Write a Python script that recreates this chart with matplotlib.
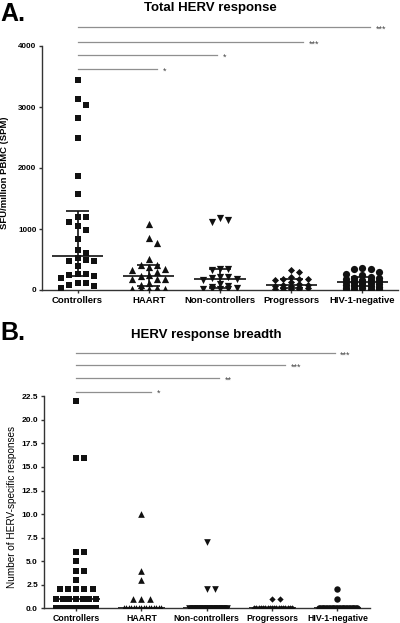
import numpy as np
import matplotlib.pyplot as plt

plt.rcParams['font.family'] = ['Liberation Sans', 'DejaVu Sans']

groups = ['Controllers', 'HAART', 'Non-controllers', 'Progressors', 'HIV-1-negative']

# A. Total HERV response (SFU/million PBMC)
sfu_controllers = [3450, 3130, 3030, 2825, 2500, 1875, 1575, 1200, 1200, 1110, 1050, 980, 840, 660, 610,
                   520, 485, 475, 475, 395, 262, 262, 240, 230, 190, 110, 110, 82, 60, 27]
sfu_haart = [1075, 860, 765, 510, 415, 405, 380, 350, 325, 290, 240, 230, 185, 175, 175,
             110, 80, 40, 20, 20, 20, 15]
sfu_noncontrollers = [1180, 1150, 1120, 350, 340, 330, 220, 210, 200, 180, 170, 100, 60, 50,
                      30, 20, 20, 10, 10]
sfu_progressors = [330, 290, 210, 180, 175, 175, 170, 130, 100, 90, 80, 70, 60, 50, 40,
                   30, 20, 10, 10, 5]
sfu_hivneg = [360, 345, 340, 290, 270, 240, 220, 200, 190, 180, 170, 160, 150, 140, 130,
              120, 120, 110, 100, 90, 80, 70, 60, 50, 40, 30, 20, 10, 10, 0]

# B. HERV response breadth (number of HERV-specific responses)
breadth_controllers = [22, 16, 16, 6, 6, 5, 4, 4, 3, 2, 2, 2, 2, 2, 1, 1, 1, 1, 1, 1, 1,
                       0, 0, 0, 0, 0, 0, 0, 0, 0]
breadth_haart = [10, 4, 3, 1, 1, 1, 0, 0, 0, 0, 0, 0, 0, 0, 0, 0, 0, 0, 0, 0, 0, 0]
breadth_noncontrollers = [7, 2, 2, 0, 0, 0, 0, 0, 0, 0, 0, 0, 0, 0, 0, 0, 0, 0, 0]
breadth_progressors = [1, 1, 0, 0, 0, 0, 0, 0, 0, 0, 0, 0, 0, 0, 0, 0, 0, 0, 0, 0]
breadth_hivneg = [2, 1, 0, 0, 0, 0, 0, 0, 0, 0, 0, 0, 0, 0, 0, 0, 0, 0, 0, 0,
                  0, 0, 0, 0, 0, 0, 0, 0, 0, 0]

sig_total = ['*', '*', '***', '***']
sig_breadth = ['*', '**', '***', '***']

markers = ['s', '^', 'v', 'D', 'o']
W, H = 400, 623


def slot(k):
    # 0, +1, -1, +2, -2, ...
    return (k + 1) // 2 * (1 if k % 2 else -1)


def offsets_rows(vals, px_y, step=8.3, bin_px=6.0, max_px=20.0):
    # equal values sit in one row, squeezed when the row gets crowded
    vals = np.asarray(vals, float)
    rows = np.floor(vals * px_y / bin_px + 0.5)
    out = np.zeros(len(vals))
    for r in np.unique(rows):
        idx = np.where(rows == r)[0]
        n = len(idx)
        s = step if n == 1 else min(step, max_px / np.ceil((n - 1) / 2))
        for k, i in enumerate(idx):
            out[i] = slot(k) * s
    return out


def offsets_swarm(vals, px_y, step=8.3, size=6.5, max_steps=2):
    # simple collision swarm in pixel space
    vals = np.asarray(vals, float)
    out = np.zeros(len(vals))
    placed = []
    cands = [slot(k) * step for k in range(2 * max_steps + 1)]
    for i in np.argsort(-vals):
        y = vals[i] * px_y
        best, best_d = None, -1
        for c in cands:
            hit = [(px, py) for px, py in placed if abs(px - c) < size and abs(py - y) < size]
            if not hit:
                best = c
                break
            d = min(np.hypot(px - c, py - y) for px, py in hit)
            if d > best_d:
                best, best_d = c, d
        placed.append((best, y))
        out[i] = best
    return out


def panel(ax, data, ms, ylim, yticks, fmt, iqr, mode, sig_y, sig_end, sig_lab):
    pos = ax.get_position()
    px_x = pos.width * W / 5.0
    px_y = pos.height * H / ylim[1]
    for i, vals in enumerate(data):
        x0 = i + 1
        if mode == 'rows':
            off = offsets_rows(vals, px_y)
        else:
            off = offsets_swarm(vals, px_y)
        ax.scatter(x0 + off / px_x, vals, marker=markers[i], s=ms[i] ** 2, color='#111111',
                   linewidths=0, zorder=3)
        med = np.percentile(vals, 50, method='weibull')
        ax.hlines(med, x0 - 0.36, x0 + 0.36, color='#111111', lw=1.2, zorder=4)
        if iqr:
            q1, q3 = np.percentile(vals, [25, 75], method='weibull')
            ax.vlines(x0, q1, q3, color='#111111', lw=1.2, zorder=4)
            ax.hlines([q1, q3], x0 - 0.16, x0 + 0.16, color='#111111', lw=1.2, zorder=4)

    ax.set_xlim(0.5, 5.5)
    ax.set_ylim(*ylim)
    ax.set_yticks(yticks)
    ax.set_yticklabels([fmt.format(t) for t in yticks], fontweight='bold')
    ax.set_xticks(range(1, 6))
    ax.set_xticklabels(groups, fontweight='bold')
    for s in ['top', 'right']:
        ax.spines[s].set_visible(False)
    for s in ['left', 'bottom']:
        ax.spines[s].set_color('#333333')
        ax.spines[s].set_linewidth(1.0)
    ax.tick_params(length=2.5, width=1.0, color='#333333', pad=1.5)

    for y, xe, lab in zip(sig_y, sig_end, sig_lab):
        ax.plot([1.0, xe], [y, y], color='#8f8f8f', lw=0.9, clip_on=False)
        ax.annotate(lab, (xe, y), xytext=(4, -1.5), textcoords='offset points',
                    ha='left', va='center', fontsize=6.5, color='#444444',
                    annotation_clip=False)


fig = plt.figure(figsize=(W / 100, H / 100), dpi=100)

axA = fig.add_axes([42 / W, 1 - 290 / H, 356 / W, 244 / H])
panel(axA, [sfu_controllers, sfu_haart, sfu_noncontrollers, sfu_progressors, sfu_hivneg],
      [4.8, 5.2, 5.2, 3.6, 5.2], (0, 4000), [0, 1000, 2000, 3000, 4000], '{:.0f}', True, 'swarm',
      [3620, 3850, 4070, 4305], [2.12, 2.96, 4.17, 5.11], sig_total)
axA.tick_params(axis='y', labelsize=5.8)
axA.tick_params(axis='x', labelsize=6.8)

axB = fig.add_axes([43.5 / W, 1 - 608.3 / H, 326.5 / W, 212 / H])
panel(axB, [breadth_controllers, breadth_haart, breadth_noncontrollers, breadth_progressors, breadth_hivneg],
      [4.4, 4.8, 4.8, 3.2, 4.6], (0, 22.5), [0, 2.5, 5, 7.5, 10, 12.5, 15, 17.5, 20, 22.5], '{:.1f}',
      False, 'rows', [23.0, 24.4, 25.8, 27.1], [2.15, 3.19, 4.20, 4.96], sig_breadth)
axB.tick_params(axis='y', labelsize=6.0)
axB.tick_params(axis='x', labelsize=6.3)

fig.text(0.0, 1 - 14 / H, 'A.', fontsize=18, fontweight='bold', va='center', ha='left')
fig.text(210 / W, 1 - 8 / H, 'Total HERV response', fontsize=9.5, fontweight='bold', va='center', ha='center')
fig.text(5 / W, 1 - 173 / H, 'SFU/million PBMC (SPM)', fontsize=6.8, fontweight='bold',
         rotation=90, va='center', ha='center')

fig.text(0.0, 1 - 333 / H, 'B.', fontsize=18, fontweight='bold', va='center', ha='left')
fig.text(206 / W, 1 - 335 / H, 'HERV response breadth', fontsize=9.5, fontweight='bold', va='center', ha='center')
fig.text(12.5 / W, 1 - 507 / H, 'Number of HERV-specific responses', fontsize=7.2,
         rotation=90, va='center', ha='center')

fig.savefig('out.png', dpi=100)
